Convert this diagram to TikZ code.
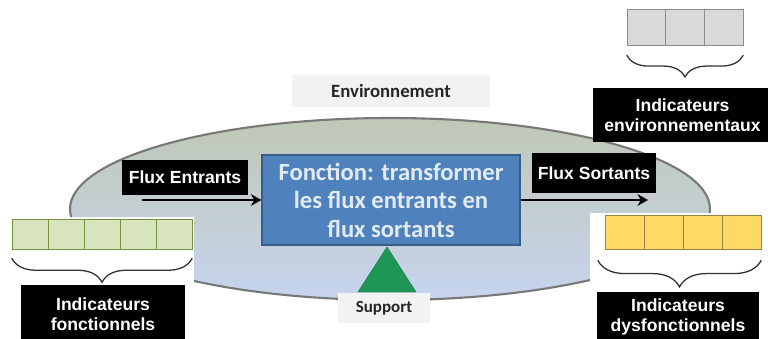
\documentclass[tikz,border=0pt]{standalone}
\usepackage{fontspec}
\setmainfont{Liberation Sans}
\newfontfamily\califont{Carlito}
\usetikzlibrary{positioning,arrows.meta,decorations.pathreplacing}

\definecolor{fonctblue}{RGB}{79,129,189}
\definecolor{fonctedge}{RGB}{56,93,138}
\definecolor{fonctext}{RGB}{225,234,246}
\definecolor{envtop}{RGB}{192,200,182}
\definecolor{envbot}{RGB}{198,212,238}
\definecolor{envedge}{RGB}{120,120,120}
\definecolor{lightbox}{RGB}{242,242,242}
\definecolor{supgreen}{RGB}{30,150,85}
\definecolor{greenfill}{RGB}{215,228,189}
\definecolor{greenedge}{RGB}{118,146,60}
\definecolor{grayfill}{RGB}{217,217,217}
\definecolor{grayedge}{RGB}{140,140,140}
\definecolor{yellowfill}{RGB}{255,217,102}
\definecolor{yellowedge}{RGB}{150,130,70}

\begin{document}
\begin{tikzpicture}[x=0.03cm,y=-0.03cm,
  tag/.style = {fill=black, text=white, font=\bfseries\fontsize{15}{17.5}\selectfont, align=center, inner sep=0pt},
  greycard/.style = {fill=lightbox, text=black!85, font=\califont\bfseries, inner sep=0pt},
  cellg/.style = {draw=greenedge, fill=greenfill, minimum width=1.08cm, minimum height=0.9cm, inner sep=0pt},
  cellgr/.style = {draw=grayedge, fill=grayfill, minimum width=1.16cm, minimum height=1.08cm, inner sep=0pt},
  celly/.style = {draw=yellowedge, fill=yellowfill, minimum width=1.17cm, minimum height=1.02cm, inner sep=0pt},
  curly/.style = {draw=black!80, line width=1.1pt, decorate, decoration={brace, mirror, amplitude=#1}},
  flow/.style = {line width=2.2pt, -{Stealth[length=9pt, width=10pt]}}]
\useasboundingbox (0,0) rectangle (768,338);
\clip (0,0) rectangle (768,338);

\draw[envedge, line width=1.8pt, top color=envtop, bottom color=envbot] (390,209) ellipse [x radius=320, y radius=91];
\fill[white] (-5,217) rectangle (194,345);
\fill[white] (590,213) rectangle (775,345);

\node[greycard, minimum width=5.94cm, minimum height=0.96cm, font=\califont\bfseries\fontsize{16}{18}\selectfont] (env) at (391,91) {Environnement};

\node[draw=fonctedge, line width=1pt, fill=fonctblue, text=fonctext, minimum width=7.74cm, minimum height=2.7cm, align=center,
  font=\califont\bfseries\fontsize{21}{24.3}\selectfont] (fonct) at (391,200) {Fonction: transformer\\les flux entrants en\\flux sortants};

\draw[fill=supgreen, draw=supgreen!80!black] (387,247) -- (416,292) -- (358,292) -- cycle;
\node[greycard, minimum width=2.76cm, minimum height=0.9cm, font=\califont\bfseries\fontsize{14.5}{16}\selectfont] (sup) at (384,308) {Support};

\node[tag, minimum width=3.78cm, minimum height=1.05cm] (fin) at (185,177) {Flux Entrants};
\node[tag, minimum width=3.72cm, minimum height=1.2cm] (fout) at (594,173) {Flux Sortants};
\coordinate (inStart) at (142,200);
\coordinate (outEnd) at (648,200);
\draw[flow] (inStart) -- (fonct.west);
\draw[flow] (fonct.east) -- (outEnd);

\foreach \i in {1,...,5}
  \node[cellg] (g\i) at ({30+36*(\i-1)},234) {};
\foreach \i in {1,...,3}
  \node[cellgr] (a\i) at ({646.3+38.7*(\i-1)},27) {};
\foreach \i in {1,...,4}
  \node[celly] (y\i) at ({624.5+39*(\i-1)},232) {};

\draw[curly=0.72cm] ([yshift=-9*0.03cm]g1.south west) -- ([yshift=-9*0.03cm]g5.south east);
\draw[curly=0.65cm] ([yshift=-10*0.03cm]a1.south west) -- ([yshift=-10*0.03cm]a3.south east);
\draw[curly=0.8cm] ([xshift=-7*0.03cm, yshift=-11*0.03cm]y1.south west) -- ([yshift=-11*0.03cm]y4.south east);

\node[tag, minimum width=4.92cm, minimum height=1.74cm] (indf) at (103,314) {Indicateurs\\fonctionnels};
\node[tag, minimum width=5.37cm, minimum height=1.62cm] (inde) at (682.5,115) {Indicateurs\\environnementaux};
\node[tag, minimum width=4.86cm, minimum height=1.5cm] (indd) at (678,317) {Indicateurs\\dysfonctionnels};
\end{tikzpicture}
\end{document}
